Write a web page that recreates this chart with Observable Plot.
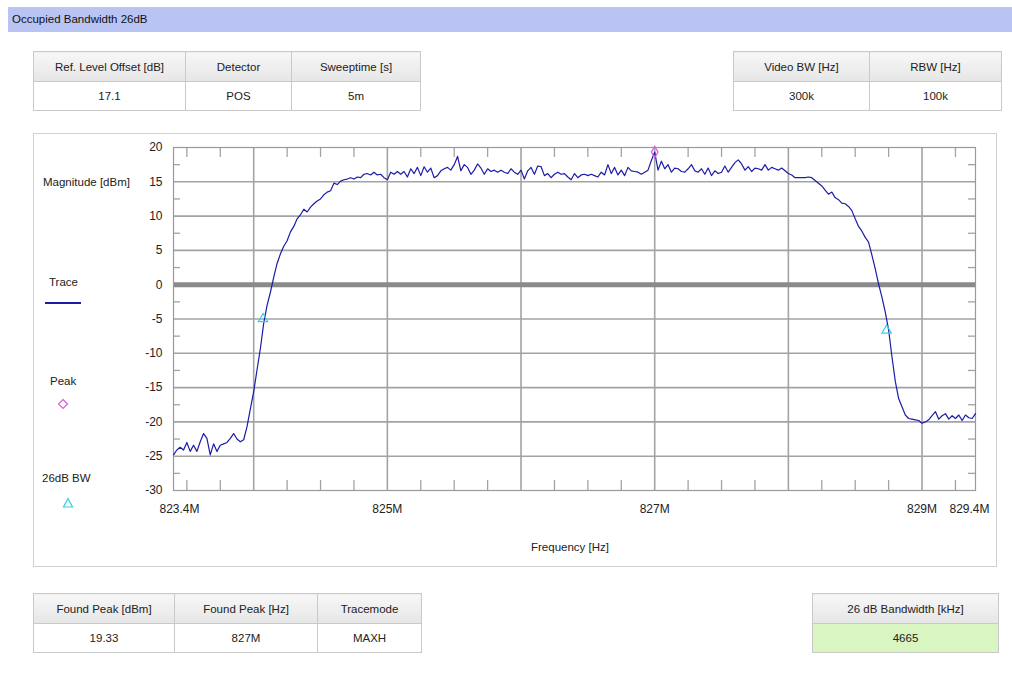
<!DOCTYPE html>
<html>
<head>
<meta charset="utf-8">
<script src="https://cdn.jsdelivr.net/npm/d3@7"></script>
<script src="https://cdn.jsdelivr.net/npm/@observablehq/plot@0.6"></script>
<style>
  html, body { margin: 0; padding: 0; background: #ffffff; }
  body { width: 1012px; height: 677px; position: relative; overflow: hidden;
         font-family: "Liberation Sans", Arial, sans-serif; color: #222; }
  .abs { position: absolute; }
  .titlebar { left: 8px; top: 7px; width: 1004px; height: 25px; background: #b9c4f4;
              font-size: 11.5px; line-height: 24px; padding-left: 4px; box-sizing: border-box; color: #111; }
  table.info { position: absolute; border-collapse: collapse; font-size: 11.5px; }
  table.info td { border: 1px solid #c9c9c9; text-align: center; padding: 0; }
  table.info tr.h td { background: linear-gradient(#f7f7f7, #e6e6e6); height: 29px; }
  table.info tr.v td { background: #ffffff; height: 28px; }
  table.info tr.v td.green { background: #d8f5c2; }
  .panel { left: 33px; top: 133px; width: 964px; height: 434px; border: 1px solid #d0d0d0; box-sizing: border-box; }
  .lg { font-size: 11.5px; color: #222; white-space: nowrap; }
</style>
</head>
<body>
<div class="abs titlebar">Occupied Bandwidth 26dB</div>
<div class="abs panel"></div>
<div id="tables"></div>
<div id="chart" class="abs" style="left:0;top:130px;"></div>
<div class="abs lg" style="left:43px;top:176px;">Magnitude [dBm]</div>
<div class="abs lg" style="left:49px;top:276px;">Trace</div>
<svg class="abs" style="left:44px;top:298px;" width="38" height="10"><line x1="1" y1="5" x2="37" y2="5" stroke="#1c1ca8" stroke-width="2"/></svg>
<div class="abs lg" style="left:50px;top:375px;">Peak</div>
<svg class="abs" style="left:57px;top:398px;" width="12" height="12"><path d="M6,1.5 L10.5,6 L6,10.5 L1.5,6 Z" fill="none" stroke="#e05ad6" stroke-width="1.2"/></svg>
<div class="abs lg" style="left:42px;top:472px;">26dB BW</div>
<svg class="abs" style="left:62px;top:497px;" width="12" height="12"><path d="M6,1.5 L10.5,10 L1.5,10 Z" fill="none" stroke="#36cfe0" stroke-width="1.2"/></svg>
<div class="abs lg" style="left:531px;top:541px;">Frequency [Hz]</div>
<script>
// ---------------- data ----------------
const freqStartMHz = 823.4;
const freqStepMHz = 0.025;
const magnitudeDbm = [
  -24.8,-24.1,-23.7,-24.1,-23.0,-24.3,-23.4,-24.3,-22.9,-21.7,-22.4,-24.8,-23.2,-24.3,-23.4,-23.2,-23.0,-22.4,-21.7,-22.5,-22.9,
  -22.6,-20.7,-18.1,-15.6,-12.4,-9.3,-5.6,-3.0,-1.1,1.1,3.1,4.5,5.6,6.4,7.7,8.5,9.6,10.2,11.0,10.6,
  11.3,11.8,12.2,12.5,13.1,13.5,13.7,14.8,14.6,15.1,15.3,15.4,15.6,15.4,15.7,15.6,16.1,16.2,16.0,16.4,
  16.0,16.1,15.6,15.3,16.4,16.1,16.5,16.1,16.5,15.7,16.9,16.2,17.1,15.9,17.2,16.4,17.0,15.6,15.9,16.6,
  16.9,17.1,16.7,17.5,18.7,16.6,17.5,17.1,16.1,16.7,17.6,17.0,16.1,16.9,16.5,16.7,16.4,16.7,16.4,16.2,
  16.9,16.4,16.1,16.7,15.4,16.6,17.1,16.1,17.3,17.2,15.9,16.2,15.6,16.1,16.4,16.1,16.2,15.7,15.3,16.2,
  15.6,16.0,16.1,15.9,16.1,15.9,15.7,16.4,16.0,17.5,16.2,17.1,16.0,16.7,15.9,17.1,16.6,16.5,16.4,16.1,
  16.4,16.7,18.1,19.33,16.7,18.0,16.9,17.5,16.4,17.0,16.9,16.5,16.4,16.9,17.5,16.6,16.4,16.9,16.1,17.0,
  15.9,16.6,16.2,16.4,17.3,16.4,17.1,17.8,18.2,17.6,16.7,17.2,16.5,17.0,16.9,16.7,17.5,16.7,17.1,16.9,
  16.7,17.0,16.6,16.2,16.0,15.6,15.6,15.6,15.6,15.7,15.6,15.2,14.8,14.4,13.8,13.2,13.5,12.7,12.4,11.9,
  11.8,11.4,10.8,9.6,8.5,7.8,6.9,6.2,4.3,2.3,0.1,-1.8,-4.0,-6.6,-10.5,-14.1,-16.6,-17.8,-19.0,-19.5,
  -19.6,-19.7,-19.8,-20.2,-20.0,-19.7,-19.1,-18.5,-19.6,-19.1,-18.8,-19.6,-19.1,-19.5,-19.0,-19.8,-19.0,-19.4,-19.5,-18.8
];
const xDomainMHz = [823.4, 829.4];
const yDomainDbm = [-30, 20];
const xTickLabelsInnerMHz = [825, 827, 829];
const xTickLabelStartMHz = [823.4];
const xTickLabelEndMHz = [829.4];
const xGridMHz = [824, 825, 826, 827, 828, 829];
const xMinorMHz = [823.5, 823.75, 824.25, 824.5, 824.75, 825.25, 825.5, 825.75, 826.25, 826.5, 826.75,
                   827.25, 827.5, 827.75, 828.25, 828.5, 828.75, 829.25];
const yTicksDbm = [-30, -25, -20, -15, -10, -5, 0, 5, 10, 15, 20];
const yGridDbm = [-25, -20, -15, -10, -5, 5, 10, 15];
const yZeroDbm = [0];
const yMinorDbm = [-27.5, -22.5, -17.5, -12.5, -7.5, -2.5, 2.5, 7.5, 12.5, 17.5];
const peakFreqMHz = [827.0];
const peakDbm = [19.33];
const bwFreqMHz = [824.07, 828.735];
const bwDbm = [-5.0, -6.67];

const topLeftHeaders = ["Ref. Level Offset [dB]", "Detector", "Sweeptime [s]"];
const topLeftValues = ["17.1", "POS", "5m"];
const topRightHeaders = ["Video BW [Hz]", "RBW [Hz]"];
const topRightValues = ["300k", "100k"];
const bottomLeftHeaders = ["Found Peak [dBm]", "Found Peak [Hz]", "Tracemode"];
const bottomLeftValues = ["19.33", "827M", "MAXH"];
const bottomRightHeaders = ["26 dB Bandwidth [kHz]"];
const bottomRightValues = ["4665"];

// ---------------- tables ----------------
function makeTable(left, top, widths, headers, values, green) {
  const t = document.createElement("table");
  t.className = "info";
  t.style.left = left + "px";
  t.style.top = top + "px";
  const h = t.insertRow(); h.className = "h";
  const v = t.insertRow(); v.className = "v";
  headers.forEach((txt, i) => {
    const c = h.insertCell(); c.textContent = txt; c.style.width = widths[i] + "px";
    const d = v.insertCell(); d.textContent = values[i]; if (green) d.className = "green";
  });
  document.getElementById("tables").appendChild(t);
}
makeTable(33, 51, [151, 105, 128], topLeftHeaders, topLeftValues, false);
makeTable(733, 51, [135, 131], topRightHeaders, topRightValues, false);
makeTable(33, 593, [140, 142, 103], bottomLeftHeaders, bottomLeftValues, false);
makeTable(812, 593, [185], bottomRightHeaders, bottomRightValues, true);

// ---------------- chart ----------------
const trace = magnitudeDbm.map((v, i) => ({f: freqStartMHz + i * freqStepMHz, v}));
const peak = peakFreqMHz.map((f, i) => ({f, v: peakDbm[i]}));
const bw = bwFreqMHz.map((f, i) => ({f, v: bwDbm[i]}));

const W = 1012, H = 440, mL = 173, mR = 37, mT = 17, mB = 80;
const frameH = H - mT - mB, frameW = W - mL - mR;
const gridColor = "#a3a3a3";
const fmtM = d => d + "M";
const xAxisOpts = {tickSize: 0, tickPadding: 14, fontSize: 12, label: null, tickFormat: fmtM};

const chart = Plot.plot({
  width: W, height: H,
  marginLeft: mL, marginRight: mR, marginTop: mT, marginBottom: mB,
  style: {fontFamily: "Liberation Sans, Arial, sans-serif", fontSize: "12px", color: "#222", background: "transparent", overflow: "visible"},
  x: {domain: xDomainMHz, label: null},
  y: {domain: yDomainDbm, label: null},
  marks: [
    Plot.ruleY(yGridDbm, {stroke: gridColor, strokeWidth: 1.6}),
    Plot.ruleX(xGridMHz, {stroke: gridColor, strokeWidth: 1.6}),
    Plot.ruleY(yZeroDbm, {stroke: "#8a8a8a", strokeWidth: 5}),
    Plot.tickX(xMinorMHz, {x: d => d, stroke: gridColor, strokeWidth: 1.3, insetBottom: frameH - 10}),
    Plot.tickX(xMinorMHz, {x: d => d, stroke: gridColor, strokeWidth: 1.3, insetTop: frameH - 10}),
    Plot.tickY(yMinorDbm, {y: d => d, stroke: gridColor, strokeWidth: 1.3, insetRight: frameW - 7}),
    Plot.tickY(yMinorDbm, {y: d => d, stroke: gridColor, strokeWidth: 1.3, insetLeft: frameW - 7}),
    Plot.frame({stroke: "#9a9a9a", strokeWidth: 1.2}),
    Plot.line(trace, {x: "f", y: "v", stroke: "#1c1ca8", strokeWidth: 1.2}),
    Plot.dot(bw, {x: "f", y: "v", symbol: "triangle", r: 3.5, stroke: "#36cfe0", strokeWidth: 1.2, fill: "none"}),
    Plot.dot(peak, {x: "f", y: "v", symbol: "diamond", r: 3.5, stroke: "#e05ad6", strokeWidth: 1.2, fill: "none"}),
    Plot.axisY(yTicksDbm, {tickSize: 0, tickPadding: 11, fontSize: 12, label: null, tickFormat: d => String(d)}),
    Plot.axisX(xTickLabelsInnerMHz, xAxisOpts),
    Plot.axisX(xTickLabelStartMHz, {...xAxisOpts, dx: 6}),
    Plot.axisX(xTickLabelEndMHz, {...xAxisOpts, dx: -6})
  ]
});
document.getElementById("chart").appendChild(chart);
</script>
</body>
</html>
